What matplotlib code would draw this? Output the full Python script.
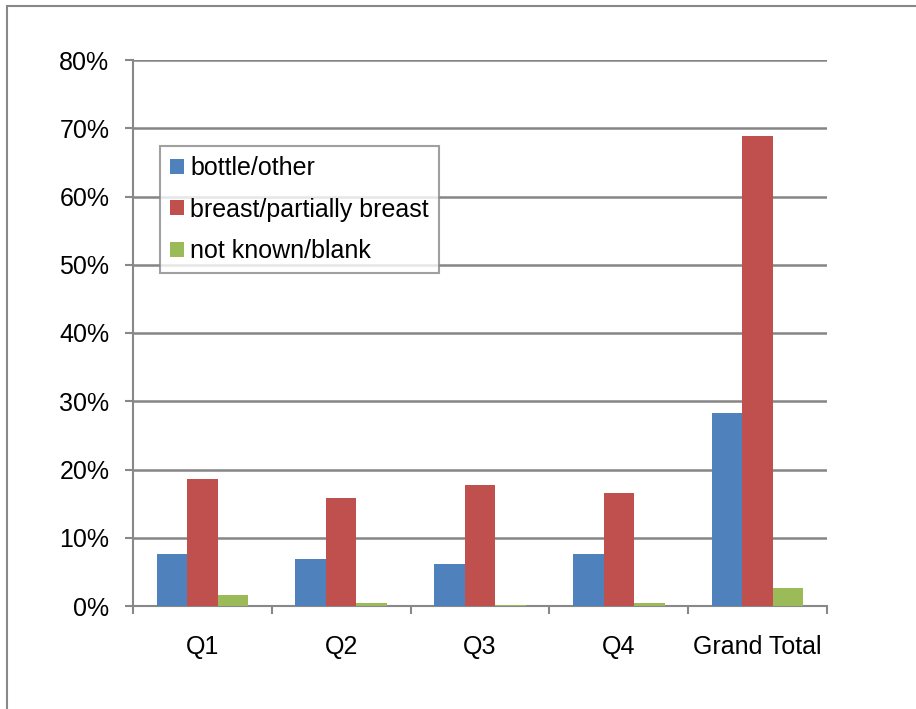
import numpy as np
import matplotlib.pyplot as plt
from matplotlib.patches import Rectangle

plt.rcParams['font.family'] = ['Liberation Sans', 'DejaVu Sans']

# data (percent)
quarters = ['Q1', 'Q2', 'Q3', 'Q4', 'Grand Total']
bottle = [7.6, 6.9, 6.2, 7.6, 28.3]
breast = [18.6, 15.8, 17.7, 16.5, 68.9]
unknown = [1.6, 0.4, 0.1, 0.4, 2.7]

series_names = ['bottle/other', 'breast/partially breast', 'not known/blank']
colors = ['#4F81BD', '#C0504D', '#9BBB59']

W, H = 916, 709
fig = plt.figure(figsize=(W / 100, H / 100), dpi=100)
ax = fig.add_axes([133 / W, 1 - 606 / H, (827 - 133) / W, (606 - 60) / H])

# outer chart frame (only left and top edges show)
fig.patches.append(Rectangle((7 / W, -0.1), 1.2, 1.1 - 6 / H, transform=fig.transFigure,
                             fill=False, edgecolor='#888888', linewidth=1.5))

x = np.arange(len(quarters))
bw = 0.22
for i, (vals, name, c) in enumerate(zip([bottle, breast, unknown], series_names, colors)):
    ax.bar(x + (i - 1) * bw, vals, bw, color=c, label=name, zorder=3)

fs = 18
ax.set_xlim(-0.5, len(quarters) - 0.5)
ax.set_ylim(0, 80)
ax.set_yticks(range(0, 81, 10))
ax.set_yticklabels([f'{v}%' for v in range(0, 81, 10)], fontsize=fs)
ax.set_xticks(x)
ax.set_xticklabels(quarters, fontsize=fs)
ax.set_xticks(np.arange(-0.5, len(quarters), 1), minor=True)
ax.tick_params(axis='x', which='major', length=0, pad=21)
ax.tick_params(axis='x', which='minor', length=6, width=1.5, color='#888888')
ax.tick_params(axis='y', length=6, width=1.5, color='#888888', pad=11)

ax.grid(axis='y', color='#858585', linewidth=1.8, zorder=0)
for s in ['top', 'right']:
    ax.spines[s].set_visible(False)
for s in ['left', 'bottom']:
    ax.spines[s].set_color('#888888')
    ax.spines[s].set_linewidth(1.5)

leg = ax.legend(loc='upper left', bbox_to_anchor=(27 / 694, 1 - 86 / 546), fontsize=fs,
                frameon=True, fancybox=False, edgecolor='#888888', handlelength=0.55,
                handleheight=0.55, handletextpad=0.25, labelspacing=0.7, borderpad=0.4,
                borderaxespad=0)
leg.get_frame().set_linewidth(1.5)

fig.savefig('out.png', dpi=100)
